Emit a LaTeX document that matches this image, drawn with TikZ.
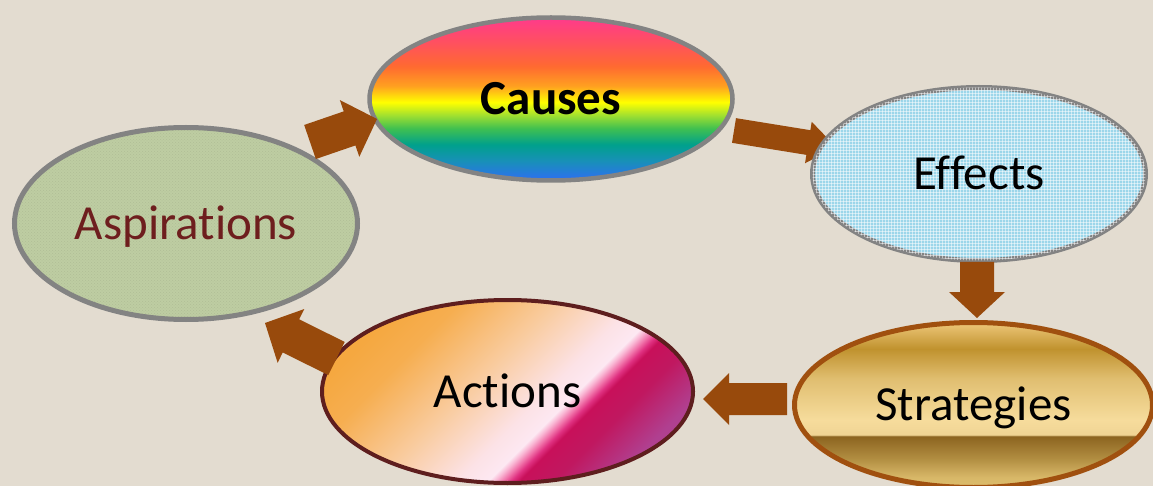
\documentclass[tikz,border=0pt]{standalone}
\usepackage{fontspec}
\setmainfont{Carlito}[Ligatures=NoCommon]
\usetikzlibrary{calc,shapes.geometric,patterns}

\definecolor{bgc}{HTML}{E3DCD0}
\definecolor{arrc}{HTML}{984A0C}
\definecolor{grayb}{HTML}{838383}
\definecolor{stratb}{HTML}{A0500F}
\definecolor{actb}{HTML}{5E1E1E}
\definecolor{aspt}{HTML}{6E1E1E}
\definecolor{effc}{HTML}{9CD6EA}
\definecolor{aspc}{HTML}{BECDA2}

% rainbow (Causes)
\definecolor{rbA}{HTML}{FF3A8C}
\definecolor{rbB}{HTML}{FF5060}
\definecolor{rbC}{HTML}{FF6A30}
\definecolor{rbD}{HTML}{FFA020}
\definecolor{rbE}{HTML}{FFFF00}
\definecolor{rbF}{HTML}{A0E030}
\definecolor{rbG}{HTML}{40C050}
\definecolor{rbH}{HTML}{00A08C}
\definecolor{rbI}{HTML}{1890B8}
\definecolor{rbJ}{HTML}{2E6EF2}
\pgfdeclareverticalshading{rainbowsh}{100bp}{color(0bp)=(rbJ); color(25bp)=(rbJ); color(31bp)=(rbI); color(36bp)=(rbH); color(41bp)=(rbG); color(45bp)=(rbF); color(49bp)=(rbE); color(54bp)=(rbD); color(60bp)=(rbC); color(67.5bp)=(rbB); color(75bp)=(rbA); color(100bp)=(rbA)}

% gold (Strategies)
\definecolor{gdA}{HTML}{DCBC6C}
\definecolor{gdB}{HTML}{D8B868}
\definecolor{gdC}{HTML}{B08C40}
\definecolor{gdD}{HTML}{8C6420}
\definecolor{gdE}{HTML}{F0D494}
\definecolor{gdF}{HTML}{F6DC9C}
\definecolor{gdG}{HTML}{E0BE70}
\definecolor{gdH}{HTML}{C0922E}
\definecolor{gdI}{HTML}{E8C070}
\definecolor{gdJ}{HTML}{EDCB80}
\pgfdeclareverticalshading{goldsh}{100bp}{color(0bp)=(gdA); color(25bp)=(gdA); color(28bp)=(gdB); color(34bp)=(gdC); color(40.5bp)=(gdD); color(41bp)=(gdE); color(45.5bp)=(gdF); color(58bp)=(gdG); color(67bp)=(gdH); color(74bp)=(gdI); color(75bp)=(gdJ); color(100bp)=(gdJ)}

% Actions
\definecolor{acA}{HTML}{F5A840}
\definecolor{acB}{HTML}{F6AE50}
\definecolor{acC}{HTML}{F9CCA0}
\definecolor{acD}{HTML}{FCE2E6}
\definecolor{acE}{HTML}{FDE8F2}
\definecolor{acF}{HTML}{F8B0D0}
\definecolor{acG}{HTML}{F070A8}
\definecolor{acH}{HTML}{E03080}
\definecolor{acI}{HTML}{C8105A}
\definecolor{acJ}{HTML}{C01860}
\definecolor{acK}{HTML}{B04090}
\pgfdeclareverticalshading{actsh}{100bp}{color(0bp)=(acA); color(25bp)=(acA); color(32.5bp)=(acB); color(45bp)=(acC); color(55bp)=(acD); color(59bp)=(acE); color(60bp)=(acF); color(61bp)=(acG); color(62bp)=(acH); color(63bp)=(acI); color(67.5bp)=(acJ); color(75bp)=(acK); color(100bp)=(acK)}

\newcommand\blockarrow[5]{%
  \path ($(#2)!#5!(#1)$) coordinate (hb);
  \fill[arrc] ($(#1)!#3!90:(#2)$) -- ($(hb)!#3!90:(#2)$) -- ($(hb)!#4!90:(#2)$) -- (#2)
    -- ($(hb)!#4!-90:(#2)$) -- ($(hb)!#3!-90:(#2)$) -- ($(#1)!#3!-90:(#2)$) -- cycle;}

\tikzset{
  ell/.style={ellipse, inner sep=0pt, text height=31.5pt, text depth=0pt,
    font=\fontsize{49}{49}\selectfont},
}

\begin{document}
\begin{tikzpicture}[x=1pt,y=-1pt]
\useasboundingbox (0,0) rectangle (1153,486);
\clip (0,0) rectangle (1153,486);
\fill[bgc] (0,0) rectangle (1153,486);

% arrow ends
\coordinate (a1t) at (310,142);   \coordinate (a1h) at (377,119);
\coordinate (a2t) at (734,130.5); \coordinate (a2h) at (836,147);
\coordinate (a3t) at (977,262);   \coordinate (a3h) at (977,318);
\coordinate (a4t) at (787,399);   \coordinate (a4h) at (703,399);
\coordinate (a5t) at (336.5,358.5); \coordinate (a5h) at (265,323);

% arrow partly hidden under Effects
\blockarrow{a2t}{a2h}{12.5pt}{21pt}{28pt}

\node[ell, shade, shading=rainbowsh, draw=grayb, line width=4.5pt,
  minimum width=363pt, minimum height=163pt] (causes) at (551,99) {\textbf{Causes}};
\node[ell, fill=effc, draw=grayb, line width=5pt,
  postaction={pattern=grid, pattern color=white, opacity=0.5},
  minimum width=333pt, minimum height=173pt] (effects) at (979,174) {Effects};
\node[ell, fill=aspc, draw=grayb, line width=5pt,
  postaction={pattern=crosshatch dots, pattern color=aspc!70!black, opacity=0.25},
  minimum width=343pt, minimum height=192pt, text=aspt] (asp) at (186,223.5) {Aspirations};
\node[ell, shade, shading=goldsh, draw=stratb, line width=5pt,
  minimum width=358pt, minimum height=165pt] (strat) at (973.5,405) {Strategies};
\node[ell, shade, shading=actsh, shading angle=-135, draw=actb, line width=4pt,
  minimum width=371pt, minimum height=183pt] (act) at (507.5,391.5) {Actions};

\blockarrow{a1t}{a1h}{18pt}{30pt}{29pt}
\blockarrow{a3t}{a3h}{17pt}{28pt}{26pt}
\blockarrow{a4t}{a4h}{16pt}{26pt}{26pt}
\blockarrow{a5t}{a5h}{18.5pt}{30pt}{29pt}
\end{tikzpicture}
\end{document}
